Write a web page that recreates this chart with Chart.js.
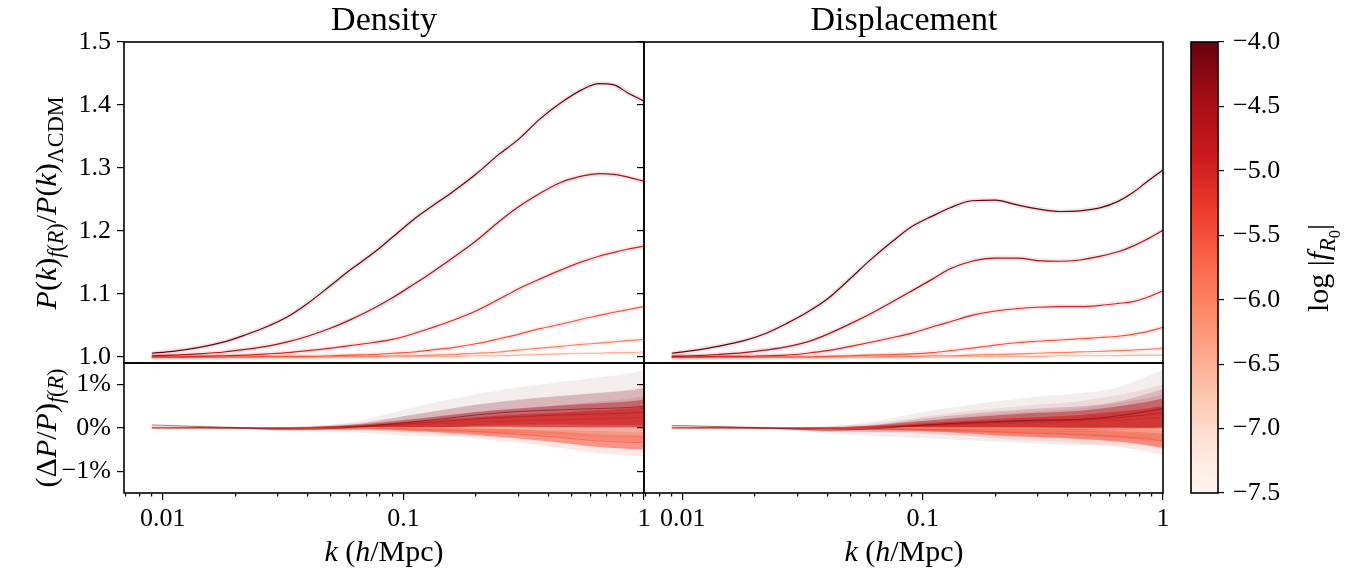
<!DOCTYPE html>
<html>
<head>
<meta charset="utf-8">
<script src="https://cdn.jsdelivr.net/npm/chart.js@4.4.0/dist/chart.umd.min.js"></script>
<style>
  html, body { margin: 0; padding: 0; background: #fff; }
  #fig { position: relative; width: 1346px; height: 574px; overflow: hidden;
         font-family: "Liberation Serif", "DejaVu Serif", serif; color: #000; }
  #fig canvas { position: absolute; left: 0; top: 0; }
  .txt { position: absolute; white-space: nowrap; line-height: 1; transform: translate(-50%, -50%); }
  .rot { transform: translate(-50%, -50%) rotate(-90deg); }
  .txt sub { font-size: 0.74em; vertical-align: baseline; position: relative; top: 0.3em; }
</style>
</head>
<body>
<div id="fig">
  <canvas id="cTL" width="1346" height="574"></canvas>
  <canvas id="cTR" width="1346" height="574"></canvas>
  <canvas id="cBL" width="1346" height="574"></canvas>
  <canvas id="cBR" width="1346" height="574"></canvas>
  <canvas id="cCB" width="1346" height="574"></canvas>

  <div class="txt" style="left:384px; top:19px; font-size:34px;">Density</div>
  <div class="txt" style="left:904px; top:19px; font-size:34px;">Displacement</div>
  <div class="txt" style="left:384px; top:551px; font-size:30px;"><i>k</i> (<i>h</i>/Mpc)</div>
  <div class="txt" style="left:904px; top:551px; font-size:30px;"><i>k</i> (<i>h</i>/Mpc)</div>
  <div class="txt rot" style="left:46px; top:203px; font-size:30px;"><i>P</i>(<i>k</i>)<sub><i>f</i>(<i>R</i>)</sub>/<i>P</i>(<i>k</i>)<sub>ΛCDM</sub></div>
  <div class="txt rot" style="left:46px; top:428px; font-size:30px;">(Δ<i>P</i>/<i>P</i>)<sub><i>f</i>(<i>R</i>)</sub></div>
  <div class="txt rot" style="left:1318px; top:268px; font-size:30px;">log |<i>f</i><sub><i>R</i><sub>0</sub></sub>|</div>
</div>

<script>
// ── DATOS ─────────────────────────────────────────────────────
const LOG_FR0 = [-4.0, -4.5, -5.0, -5.5, -6.0, -6.5];

// k (h/Mpc) para los paneles de arriba
const K = [0.009, 0.011, 0.014, 0.018, 0.022, 0.027, 0.033, 0.04, 0.05, 0.06, 0.075, 0.09,
           0.11, 0.13, 0.16, 0.2, 0.25, 0.3, 0.37, 0.45, 0.55, 0.65, 0.75, 0.85, 1.0];

// P(k)_f(R) / P(k)_LCDM — Density
const DEN_M40 = [1.006,1.009,1.015,1.024,1.035,1.048,1.064,1.085,1.114,1.138,1.165,1.19,1.218,1.238,1.262,1.29,1.322,1.345,1.378,1.403,1.424,1.434,1.432,1.42,1.406];
const DEN_M45 = [1.002,1.003,1.005,1.008,1.012,1.017,1.024,1.033,1.046,1.059,1.077,1.094,1.115,1.133,1.157,1.184,1.215,1.238,1.26,1.277,1.287,1.291,1.29,1.286,1.279];
const DEN_M50 = [1.0,1.0,1.001,1.002,1.003,1.005,1.007,1.01,1.014,1.018,1.023,1.028,1.037,1.046,1.058,1.073,1.092,1.108,1.124,1.138,1.151,1.160,1.166,1.171,1.176];
const DEN_M55 = [1.0,1.0,1.0,1.0,1.0,1.001,1.001,1.001,1.002,1.003,1.004,1.006,1.008,1.011,1.015,1.021,1.029,1.036,1.045,1.052,1.06,1.066,1.071,1.075,1.08];
const DEN_M60 = [1.0,1.0,1.0,1.0,1.0,1.0,1.0,1.0,1.0,1.001,1.001,1.002,1.002,1.003,1.004,1.006,1.008,1.011,1.014,1.017,1.02,1.022,1.024,1.026,1.028];
const DEN_M65 = [1.0,1.0,1.0,1.0,1.0,1.0,1.0,1.0,1.0,1.0,1.0,1.0,1.001,1.001,1.001,1.002,1.002,1.003,1.004,1.005,1.006,1.006,1.007,1.007,1.008];

// P(k)_f(R) / P(k)_LCDM — Displacement
const DIS_M40 = [1.006,1.010,1.017,1.026,1.037,1.053,1.071,1.092,1.125,1.153,1.184,1.207,1.224,1.237,1.248,1.249,1.241,1.235,1.231,1.232,1.237,1.247,1.261,1.277,1.297];
const DIS_M45 = [1.001,1.002,1.004,1.007,1.011,1.016,1.024,1.036,1.053,1.068,1.088,1.105,1.124,1.140,1.152,1.157,1.157,1.153,1.152,1.154,1.160,1.167,1.176,1.186,1.201];
const DIS_M50 = [1.0,1.0,1.001,1.001,1.002,1.003,1.006,1.010,1.017,1.023,1.031,1.038,1.048,1.056,1.066,1.073,1.077,1.079,1.080,1.080,1.082,1.085,1.088,1.094,1.105];
const DIS_M55 = [1.0,1.0,1.0,1.0,1.0,1.0,1.0,1.001,1.002,1.003,1.004,1.005,1.007,1.010,1.014,1.019,1.023,1.025,1.027,1.029,1.031,1.033,1.036,1.040,1.047];
const DIS_M60 = [1.0,1.0,1.0,1.0,1.0,1.0,1.0,1.0,1.0,1.0,1.001,1.001,1.002,1.002,1.003,1.004,1.005,1.006,1.007,1.008,1.009,1.010,1.011,1.012,1.014];
const DIS_M65 = [1.0,1.0,1.0,1.0,1.0,1.0,1.0,1.0,1.0,1.0,1.0,1.0,1.0,1.0,1.001,1.001,1.001,1.001,1.002,1.002,1.002,1.002,1.003,1.003,1.003];

// k para los paneles de abajo (ΔP/P, en %)
const K_B = [0.009, 0.015, 0.02, 0.03, 0.04, 0.055, 0.07, 0.1, 0.15, 0.2, 0.3, 0.45, 0.65, 0.85, 1.0];

const DEN_BIAS_M40 = [0.07,0.03,0.01,-0.03,-0.03,0.0,0.04,0.12,0.22,0.3,0.38,0.42,0.45,0.47,0.5];
const DEN_SD_M40   = [0.0,0.005,0.01,0.02,0.03,0.05,0.08,0.15,0.21,0.24,0.28,0.32,0.36,0.39,0.42];
const DEN_BIAS_M45 = [0.02,0.01,0.0,-0.01,0.0,0.02,0.04,0.09,0.16,0.21,0.26,0.3,0.32,0.34,0.36];
const DEN_SD_M45   = [0.0,0.005,0.01,0.015,0.02,0.035,0.05,0.09,0.13,0.16,0.19,0.22,0.25,0.27,0.3];
const DEN_BIAS_M50 = [0.0,0.0,0.0,0.0,0.01,0.02,0.04,0.07,0.11,0.14,0.17,0.19,0.21,0.23,0.25];
const DEN_SD_M50   = [0.0,0.005,0.005,0.01,0.015,0.025,0.035,0.06,0.09,0.11,0.14,0.17,0.2,0.22,0.24];
const DEN_BIAS_M55 = [0.0,0.0,0.0,0.0,0.0,0.0,0.0,-0.02,-0.05,-0.08,-0.14,-0.22,-0.3,-0.33,-0.34];
const DEN_SD_M55   = [0.0,0.0,0.005,0.005,0.01,0.015,0.02,0.04,0.06,0.08,0.1,0.12,0.14,0.15,0.16];
const DEN_BIAS_M60 = [0.0,0.0,0.0,0.0,0.0,0.0,0.0,-0.01,-0.02,-0.04,-0.07,-0.1,-0.14,-0.17,-0.19];
const DEN_SD_M60   = [0.0,0.0,0.0,0.005,0.005,0.01,0.01,0.02,0.03,0.04,0.05,0.06,0.07,0.08,0.09];
const DEN_BIAS_M65 = [0.0,0.0,0.0,0.0,0.0,0.0,0.0,0.0,0.0,0.0,-0.01,-0.01,-0.02,-0.02,-0.03];
const DEN_SD_M65   = [0.0,0.0,0.0,0.0,0.0,0.005,0.005,0.01,0.01,0.015,0.02,0.02,0.03,0.03,0.035];

const DIS_BIAS_M40 = [0.06,0.03,0.01,-0.03,-0.05,-0.03,0.0,0.07,0.12,0.15,0.18,0.2,0.28,0.38,0.45];
const DIS_SD_M40   = [0.0,0.005,0.01,0.02,0.04,0.07,0.1,0.15,0.2,0.23,0.27,0.3,0.33,0.4,0.45];
const DIS_BIAS_M45 = [0.02,0.01,0.0,-0.01,-0.01,0.0,0.02,0.06,0.1,0.13,0.16,0.18,0.24,0.3,0.35];
const DIS_SD_M45   = [0.0,0.005,0.01,0.015,0.025,0.04,0.06,0.1,0.14,0.16,0.19,0.22,0.26,0.3,0.33];
const DIS_BIAS_M50 = [0.0,0.0,0.0,0.0,0.0,0.01,0.02,0.05,0.08,0.1,0.12,0.14,0.18,0.22,0.25];
const DIS_SD_M50   = [0.0,0.005,0.005,0.01,0.015,0.025,0.04,0.06,0.09,0.11,0.13,0.16,0.2,0.23,0.26];
const DIS_BIAS_M55 = [0.0,0.0,0.0,0.0,0.0,0.0,-0.01,-0.03,-0.06,-0.09,-0.12,-0.15,-0.2,-0.25,-0.3];
const DIS_SD_M55   = [0.0,0.0,0.005,0.005,0.01,0.015,0.02,0.04,0.06,0.08,0.09,0.1,0.12,0.14,0.16];
const DIS_BIAS_M60 = [0.0,0.0,0.0,0.0,0.0,0.0,0.0,-0.01,-0.02,-0.03,-0.05,-0.07,-0.09,-0.12,-0.15];
const DIS_SD_M60   = [0.0,0.0,0.0,0.005,0.005,0.01,0.01,0.02,0.03,0.04,0.05,0.06,0.07,0.08,0.09];
const DIS_BIAS_M65 = [0.0,0.0,0.0,0.0,0.0,0.0,0.0,0.0,0.0,0.0,0.0,-0.01,-0.01,-0.02,-0.02];
const DIS_SD_M65   = [0.0,0.0,0.0,0.0,0.0,0.005,0.005,0.01,0.01,0.015,0.02,0.02,0.03,0.03,0.035];

// opacidad de las bandas por curva (externa / interna)
const BAND_OUTER_ALPHA = [0.07, 0.09, 0.12, 0.13, 0.12, 0.10];
const BAND_INNER_ALPHA = [0.16, 0.40, 0.70, 0.55, 0.45, 0.30];

// ejes
const K_MIN = 0.0069, K_MAX = 1.0;
const TOP_TICKS = [1.0, 1.1, 1.2, 1.3, 1.4, 1.5];
const TOP_MIN = 0.9905, TOP_MAX = 1.5;
const BOT_TICKS = [-1, 0, 1];
const BOT_MIN = -1.5, BOT_MAX = 1.5;
const CB_TICKS = [-7.5, -7.0, -6.5, -6.0, -5.5, -5.0, -4.5, -4.0];

// matplotlib "Reds"
const REDS = ['#fff5f0','#fee0d2','#fcbba1','#fc9272','#fb6a4a','#ef3b2c','#cb181d','#a50f15','#67000d'];

const FONT = '"Liberation Serif", "DejaVu Serif", serif';

// ── UTILIDADES ────────────────────────────────────────────────
function hexToRgb(h) { return [1, 3, 5].map(i => parseInt(h.substr(i, 2), 16)); }
function reds(v) {
    let t = (v - CB_TICKS[0]) / (CB_TICKS[CB_TICKS.length - 1] - CB_TICKS[0]);
    t = Math.max(0, Math.min(1, t));
    const p = t * (REDS.length - 1);
    const i = Math.min(Math.floor(p), REDS.length - 2);
    const f = p - i;
    const a = hexToRgb(REDS[i]), b = hexToRgb(REDS[i + 1]);
    return a.map((c, j) => Math.round(c + (b[j] - c) * f));
}
function rgba(c, a) { return `rgba(${c[0]},${c[1]},${c[2]},${a})`; }
function isMajor(v) { const l = Math.log10(v); return Math.abs(l - Math.round(l)) < 1e-9; }
function logTicks() {
    const out = [];
    for (let e = -3; e <= 0; e++) {
        for (let m = 1; m <= 9; m++) {
            const v = +(m * Math.pow(10, e)).toPrecision(3);
            if (v >= K_MIN && v <= K_MAX) out.push(v);
        }
    }
    return out;
}
const minus = s => s.replace('-', '\u2212');

// marco negro alrededor del área del gráfico
const framePlugin = {
    id: 'frame',
    afterDatasetsDraw(chart) {
        const { ctx, chartArea: a } = chart;
        ctx.save();
        ctx.strokeStyle = '#000';
        ctx.lineWidth = 1.6;
        ctx.strokeRect(a.left, a.top, a.right - a.left, a.bottom - a.top);
        ctx.restore();
    }
};

// ── DATASETS ──────────────────────────────────────────────────
const lineCommon = { pointRadius: 0, fill: false, cubicInterpolationMode: 'monotone' };

function ratioSets(series) {
    const out = [];
    series.forEach((vals, i) => {
        const c = reds(LOG_FR0[i]);
        const pts = K.map((k, j) => ({ x: k, y: vals[j] }));
        out.push({ ...lineCommon, data: pts, borderColor: rgba(c, 0.10), borderWidth: 5, order: 10 });
        out.push({ ...lineCommon, data: pts, borderColor: rgba(c, 1), borderWidth: 1.2, order: 1 });
    });
    return out;
}

function errSets(bias, sd) {
    const out = [];
    const pts = f => K_B.map((k, j) => ({ x: k, y: f(j) }));
    bias.forEach((b, i) => {
        const c = reds(LOG_FR0[i]);
        const s = sd[i];
        // banda externa (las curvas más oscuras quedan debajo)
        out.push({ ...lineCommon, data: pts(j => b[j] + 2 * s[j]), fill: '+1',
                   backgroundColor: rgba(c, BAND_OUTER_ALPHA[i]), borderColor: 'transparent', borderWidth: 0, order: 40 - i });
        out.push({ ...lineCommon, data: pts(j => b[j] - 2 * s[j]), borderColor: 'transparent', borderWidth: 0, order: 40 - i });
        // banda interna
        out.push({ ...lineCommon, data: pts(j => b[j] + s[j]), fill: '+1',
                   backgroundColor: rgba(c, BAND_INNER_ALPHA[i]), borderColor: 'transparent', borderWidth: 0, order: 25 - i });
        out.push({ ...lineCommon, data: pts(j => b[j] - s[j]), borderColor: 'transparent', borderWidth: 0, order: 25 - i });
        // media
        out.push({ ...lineCommon, data: pts(j => b[j]), borderColor: rgba(c, 0.6), borderWidth: 0.9, order: 1 });
    });
    return out;
}

// ── ESCALAS ───────────────────────────────────────────────────
const tickFont = { family: FONT, size: 26 };

function xAxis(show) {
    return {
        type: 'logarithmic', min: K_MIN, max: K_MAX, display: show,
        afterBuildTicks: s => { s.ticks = logTicks().map(v => ({ value: v, major: isMajor(v) })); },
        afterFit: s => { s.height = show ? 45 : 0; },
        grid: {
            drawOnChartArea: false, drawTicks: true, tickLength: 7, color: '#000', lineWidth: 1.2,
            tickBorderDash: c => (c.tick && isMajor(c.tick.value)) ? [] : [3.5, 30]
        },
        border: { display: false },
        ticks: { autoSkip: false, maxRotation: 0, minRotation: 0, padding: 4, color: '#000', font: tickFont,
                 callback: v => isMajor(v) ? String(v) : '' }
    };
}

function yAxis(min, max, ticks, fmt, labels) {
    return {
        type: 'linear', position: 'left', min, max,
        afterBuildTicks: s => { s.ticks = ticks.map(v => ({ value: v })); },
        afterFit: s => { s.width = labels ? 70 : 7; },
        grid: { drawOnChartArea: false, drawTicks: true, tickLength: 7, color: '#000', lineWidth: 1.2 },
        border: { display: false },
        ticks: { padding: labels ? 6 : 0, color: '#000', font: tickFont,
                 callback: v => labels ? fmt(v) : '' }
    };
}

const fmtTop = v => v.toFixed(1);
const fmtBot = v => minus(`${v}%`);

function panel(id, datasets, pad, isTop, isLeft) {
    new Chart(document.getElementById(id), {
        type: 'line',
        data: { datasets },
        options: {
            responsive: false, animation: false, events: [],
            layout: { padding: pad },
            plugins: { legend: { display: false }, tooltip: { enabled: false } },
            scales: {
                x: xAxis(!isTop),
                y: isTop ? yAxis(TOP_MIN, TOP_MAX, TOP_TICKS, fmtTop, isLeft)
                         : yAxis(BOT_MIN, BOT_MAX, BOT_TICKS, fmtBot, isLeft)
            }
        },
        plugins: [framePlugin]
    });
}

// paneles: área de gráfico x 124–644 / 644–1163, y 42–363 / 363–493
panel('cTL', ratioSets([DEN_M40, DEN_M45, DEN_M50, DEN_M55, DEN_M60, DEN_M65]),
      { left: 54, top: 42, right: 702, bottom: 211 }, true, true);
panel('cTR', ratioSets([DIS_M40, DIS_M45, DIS_M50, DIS_M55, DIS_M60, DIS_M65]),
      { left: 637, top: 42, right: 183, bottom: 211 }, true, false);
panel('cBL', errSets([DEN_BIAS_M40, DEN_BIAS_M45, DEN_BIAS_M50, DEN_BIAS_M55, DEN_BIAS_M60, DEN_BIAS_M65],
                     [DEN_SD_M40, DEN_SD_M45, DEN_SD_M50, DEN_SD_M55, DEN_SD_M60, DEN_SD_M65]),
      { left: 54, top: 363, right: 702, bottom: 36 }, false, true);
panel('cBR', errSets([DIS_BIAS_M40, DIS_BIAS_M45, DIS_BIAS_M50, DIS_BIAS_M55, DIS_BIAS_M60, DIS_BIAS_M65],
                     [DIS_SD_M40, DIS_SD_M45, DIS_SD_M50, DIS_SD_M55, DIS_SD_M60, DIS_SD_M65]),
      { left: 637, top: 363, right: 183, bottom: 36 }, false, false);

// ── BARRA DE COLOR ────────────────────────────────────────────
function cbGradient(chart) {
    const a = chart.chartArea;
    if (!a) return REDS[4];
    const g = chart.ctx.createLinearGradient(0, a.bottom, 0, a.top);
    REDS.forEach((c, i) => g.addColorStop(i / (REDS.length - 1), c));
    return g;
}

new Chart(document.getElementById('cCB'), {
    type: 'bar',
    data: {
        labels: [''],
        datasets: [{
            data: [[CB_TICKS[0], CB_TICKS[CB_TICKS.length - 1]]],
            backgroundColor: ctx => cbGradient(ctx.chart),
            borderWidth: 0, barPercentage: 1, categoryPercentage: 1
        }]
    },
    options: {
        responsive: false, animation: false, events: [],
        layout: { padding: { left: 1191, top: 42, right: 48, bottom: 81 } },
        plugins: { legend: { display: false }, tooltip: { enabled: false } },
        scales: {
            x: { display: false },
            y: {
                position: 'right', min: CB_TICKS[0], max: CB_TICKS[CB_TICKS.length - 1],
                afterBuildTicks: s => { s.ticks = CB_TICKS.map(v => ({ value: v })); },
                afterFit: s => { s.width = 80; },
                grid: { drawOnChartArea: false, drawTicks: true, tickLength: 6, color: '#000', lineWidth: 1.2 },
                border: { display: false },
                ticks: { padding: 9, color: '#000', font: tickFont, callback: v => minus(v.toFixed(1)) }
            }
        }
    },
    plugins: [framePlugin]
});
</script>
</body>
</html>
